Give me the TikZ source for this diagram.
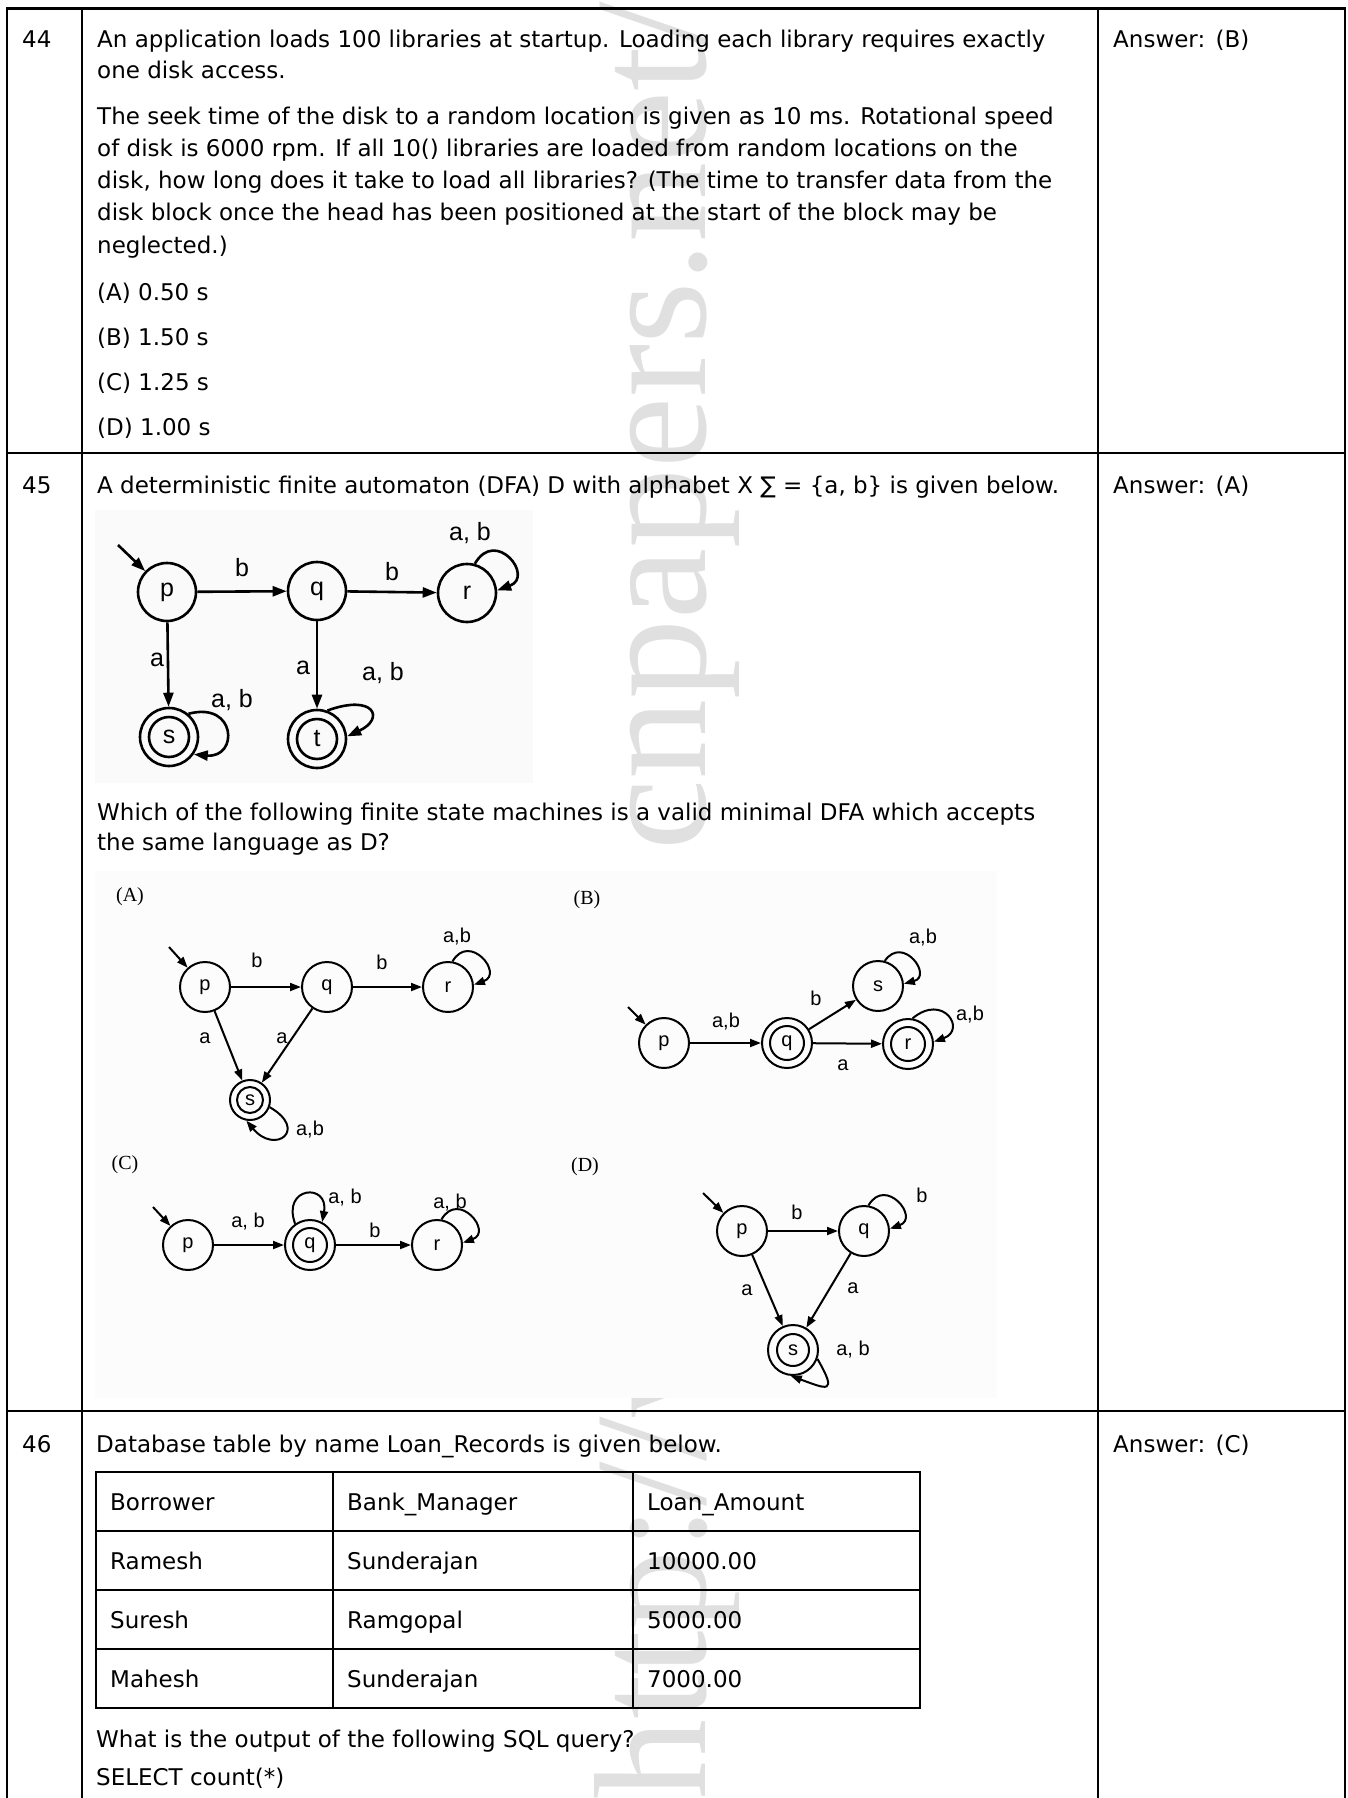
\documentclass[tikz,border=0pt]{standalone}
\usepackage{fontspec}
\setmainfont{DejaVu Sans}
\newfontfamily\dfafont{Liberation Sans}
\newfontfamily\tmsfont{Liberation Serif}
\usetikzlibrary{arrows.meta}
\tikzset{
 txt/.style={anchor=base west, inner sep=0pt, font=\fontsize{23}{28}\selectfont},
 frame/.style={line width=2.7pt},
 colline/.style={line width=2pt},
 tline/.style={line width=2pt},
 wm/.style={font=\tmsfont\fontsize{160}{160}\selectfont, text=black!12, inner sep=0pt, rotate=90},
 bigst/.style={circle, draw, line width=2.6pt, minimum size=58pt, inner sep=0pt, font=\dfafont\fontsize{25}{30}\selectfont},
 bigarr/.style={line width=2.6pt, -{Triangle[length=14pt,width=10pt]}},
 biglab/.style={font=\dfafont\fontsize{25}{30}\selectfont, inner sep=0pt},
 smst/.style={circle, draw, line width=2pt, minimum size=50pt, inner sep=0pt, font=\dfafont\fontsize{20}{24}\selectfont},
 smarr/.style={line width=2pt, -{Triangle[length=11pt,width=8pt]}},
 smlab/.style={font=\dfafont\fontsize{20}{24}\selectfont, inner sep=0pt},
 optlab/.style={font=\tmsfont\fontsize{20}{24}\selectfont, inner sep=0pt},
}
\begin{document}
\begin{tikzpicture}[x=1pt,y=1pt]
\useasboundingbox (0,0) rectangle (1348,-1798);
\fill[white] (0,0) rectangle (1348,-1798);
% watermark (reads bottom to top)
\node[wm, anchor=base west] (wm1) at (705,-1800) {http://www.};
\node[wm, anchor=base east] (wm2) at (705,-2) {cnpapers.net/};
% image backgrounds
\fill[black!2] (95,-510) rectangle (533,-783);
\fill[black!1] (95,-871) rectangle (997,-1398);
% table frame
\draw[frame] (7,-1798) -- (7,-8.7) -- (1345,-8.7) -- (1345,-1798);
\draw[frame] (7,-453) -- (1345,-453);
\draw[frame] (7,-1411) -- (1345,-1411);
\draw[colline] (82,-8.7) -- (82,-1798);
\draw[colline] (1098,-8.7) -- (1098,-1798);

% ---- row 44
\node[txt] (n44) at (22,-48) {44};
\node[txt] (l1) at (97,-48) {An application loads 100 libraries at startup. Loading each library requires exactly};
\node[txt] (l2) at (97,-79) {one disk access.};
\node[txt] (l3) at (97,-125) {The seek time of the disk to a random location is given as 10 ms. Rotational speed};
\node[txt] (l4) at (97,-157) {of disk is 6000 rpm. If all 10() libraries are loaded from random locations on the};
\node[txt] (l5) at (97,-189) {disk, how long does it take to load all libraries? (The time to transfer data from the};
\node[txt] (l6) at (97,-221) {disk block once the head has been positioned at the start of the block may be};
\node[txt] (l7) at (97,-253) {neglected.)};
\node[txt] (oA) at (97,-300) {(A) 0.50 s};
\node[txt] (oB) at (97,-345) {(B) 1.50 s};
\node[txt] (oC) at (97,-390) {(C) 1.25 s};
\node[txt] (oD) at (97,-435) {(D) 1.00 s};
\node[txt] (ans44) at (1113,-48) {Answer:\hspace{0.45em}(B)};

% ---- row 45
\node[txt] (n45) at (22,-493) {45};
\node[txt] (m1) at (97,-493) {A deterministic finite automaton (DFA) D with alphabet X ∑ = \{a, b\} is given below.};
\node[txt] (ans45) at (1113,-493) {Answer:\hspace{0.45em}(A)};
\node[txt] (m2) at (97,-820) {Which of the following finite state machines is a valid minimal DFA which accepts};
\node[txt] (m3) at (97,-850) {the same language as D?};

% DFA D
\node[bigst] (Dp) at (167,-592) {p};
\node[bigst] (Dq) at (317,-591) {q};
\node[bigst] (Dr) at (467,-593) {r};
\node[bigst] (Ds) at (169,-737) {s};
\node[bigst] (Dt) at (317,-739) {t};
\draw[line width=2.6pt] (Ds.center) circle[radius=20pt];
\draw[line width=2.6pt] (Dt.center) circle[radius=20pt];
\coordinate (Din) at (118,-545);
\draw[bigarr] (Din) -- (Dp);
\draw[bigarr] (Dp) -- (Dq);
\draw[bigarr] (Dq) -- (Dr);
\draw[bigarr] (Dp) -- (Ds);
\draw[bigarr] (Dq) -- (Dt);
\draw[bigarr] (Dr.75) .. controls +(60:42) and +(20:40) .. (Dr.5);
\draw[bigarr] (Ds.50) .. controls +(15:50) and +(-5:45) .. (Ds.-35);
\draw[bigarr] (Dt.70) .. controls +(20:50) and +(25:42) .. (Dt.5);
\node[biglab] (Dl1) at (242,-568) {b};
\node[biglab] (Dl2) at (392,-572) {b};
\node[biglab] (Dl3) at (470,-533) {a, b};
\node[biglab] (Dl4) at (157,-660) {a};
\node[biglab] (Dl5) at (303,-668) {a};
\node[biglab] (Dl6) at (232,-700) {a, b};
\node[biglab] (Dl7) at (383,-673) {a, b};

% option A
\node[optlab] (tA) at (130,-897) {(A)};
\node[smst] (Ap) at (205,-987) {p};
\node[smst] (Aq) at (327,-987) {q};
\node[smst] (Ar) at (448,-987) {r};
\node[smst, minimum size=40pt] (As) at (250,-1100) {s};
\draw[line width=2pt] (As.center) circle[radius=13pt];
\coordinate (Ain) at (169,-947);
\draw[smarr] (Ain) -- (Ap);
\draw[smarr] (Ap) -- (Aq);
\draw[smarr] (Aq) -- (Ar);
\draw[smarr] (Ap) -- (As);
\draw[smarr] (Aq) -- (As);
\draw[smarr] (Ar.80) .. controls +(60:34) and +(20:32) .. (Ar.5);
\draw[smarr] (As.-20) .. controls +(-30:45) and +(-50:45) .. (As.-100);
\node[smlab] (Al1) at (257,-960) {b};
\node[smlab] (Al2) at (382,-962) {b};
\node[smlab] (Al3) at (457,-937) {a,b};
\node[smlab] (Al4) at (205,-1038) {a};
\node[smlab] (Al5) at (282,-1038) {a};
\node[smlab] (Al6) at (310,-1130) {a,b};

% option B
\node[optlab] (tB) at (587,-900) {(B)};
\node[smst] (Bp) at (664,-1043) {p};
\node[smst] (Bq) at (787,-1043) {q};
\node[smst] (Bs) at (878,-986) {s};
\node[smst] (Br) at (908,-1044) {r};
\draw[line width=2pt] (Bq.center) circle[radius=17pt];
\draw[line width=2pt] (Br.center) circle[radius=17pt];
\coordinate (Bin) at (628,-1007);
\draw[smarr] (Bin) -- (Bp);
\draw[smarr] (Bp) -- (Bq);
\draw[smarr] (Bq) -- (Bs);
\draw[smarr] (Bq) -- (Br);
\draw[smarr] (Bs.75) .. controls +(55:32) and +(15:30) .. (Bs.5);
\draw[smarr] (Br.80) .. controls +(40:40) and +(20:35) .. (Br.5);
\node[smlab] (Bl1) at (726,-1022) {a,b};
\node[smlab] (Bl2) at (816,-998) {b};
\node[smlab] (Bl3) at (843,-1065) {a};
\node[smlab] (Bl4) at (923,-938) {a,b};
\node[smlab] (Bl5) at (970,-1015) {a,b};

% option C
\node[optlab] (tC) at (125,-1165) {(C)};
\node[smst] (Cp) at (188,-1245) {p};
\node[smst] (Cq) at (310,-1245) {q};
\node[smst] (Cr) at (437,-1245) {r};
\draw[line width=2pt] (Cq.center) circle[radius=17pt];
\coordinate (Cin) at (153,-1207);
\draw[smarr] (Cin) -- (Cp);
\draw[smarr] (Cp) -- (Cq);
\draw[smarr] (Cq) -- (Cr);
\draw[smarr] (Cq.125) .. controls +(110:40) and +(80:40) .. (Cq.62);
\draw[smarr] (Cr.80) .. controls +(60:34) and +(20:32) .. (Cr.5);
\node[smlab] (Cl1) at (248,-1222) {a, b};
\node[smlab] (Cl2) at (345,-1198) {a, b};
\node[smlab] (Cl3) at (375,-1230) {b};
\node[smlab] (Cl4) at (450,-1203) {a, b};

% option D
\node[optlab] (tD) at (585,-1167) {(D)};
\node[smst] (Ep) at (742,-1231) {p};
\node[smst] (Eq) at (864,-1231) {q};
\node[smst] (Es) at (793,-1350) {s};
\draw[line width=2pt] (Es.center) circle[radius=16pt];
\coordinate (Ein) at (703,-1193);
\draw[smarr] (Ein) -- (Ep);
\draw[smarr] (Ep) -- (Eq);
\draw[smarr] (Ep) -- (Es);
\draw[smarr] (Eq) -- (Es);
\draw[smarr] (Eq.80) .. controls +(60:34) and +(20:32) .. (Eq.5);
\draw[smarr] (Es.-20) .. controls +(-60:42) and +(-20:38) .. (Es.-95);
\node[smlab] (El1) at (797,-1212) {b};
\node[smlab] (El2) at (922,-1195) {b};
\node[smlab] (El3) at (747,-1290) {a};
\node[smlab] (El4) at (853,-1288) {a};
\node[smlab] (El5) at (853,-1350) {a, b};

% ---- row 46
\node[txt] (n46) at (22,-1452) {46};
\node[txt] (k1) at (96,-1452) {Database table by name Loan\_Records is given below.};
\node[txt] (ans46) at (1113,-1452) {Answer:\hspace{0.45em}(C)};
\draw[tline] (96,-1472) rectangle (920,-1708);
\draw[tline] (96,-1531) -- (920,-1531);
\draw[tline] (96,-1590) -- (920,-1590);
\draw[tline] (96,-1649) -- (920,-1649);
\draw[tline] (333,-1472) -- (333,-1708);
\draw[tline] (633,-1472) -- (633,-1708);
\node[txt] (c11) at (110,-1510) {Borrower};
\node[txt] (c12) at (347,-1510) {Bank\_Manager};
\node[txt] (c13) at (647,-1510) {Loan\_Amount};
\node[txt] (c21) at (110,-1569) {Ramesh};
\node[txt] (c22) at (347,-1569) {Sunderajan};
\node[txt] (c23) at (647,-1569) {10000.00};
\node[txt] (c31) at (110,-1628) {Suresh};
\node[txt] (c32) at (347,-1628) {Ramgopal};
\node[txt] (c33) at (647,-1628) {5000.00};
\node[txt] (c41) at (110,-1687) {Mahesh};
\node[txt] (c42) at (347,-1687) {Sunderajan};
\node[txt] (c43) at (647,-1687) {7000.00};
\node[txt] (k2) at (96,-1747) {What is the output of the following SQL query?};
\node[txt] (k3) at (96,-1785) {SELECT count(*)};
\end{tikzpicture}
\end{document}
